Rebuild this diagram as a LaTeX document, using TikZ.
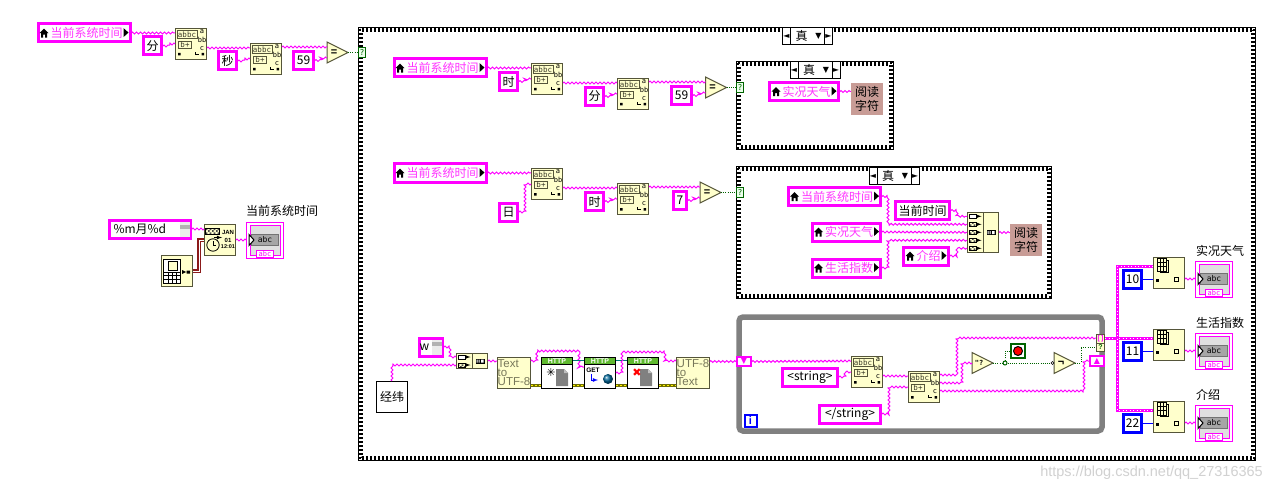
\documentclass[tikz,border=0pt]{standalone}
\usepackage{fontspec}
\setmainfont{Liberation Sans}
\newfontfamily\cjk{Noto Sans CJK SC}
\newfontfamily\djv{DejaVu Sans}
\newfontfamily\icf{DejaVu Sans Mono}
\usetikzlibrary{positioning, calc, patterns, decorations.pathmorphing}

\definecolor{strpink}{HTML}{FF00FF}
\definecolor{lvpink}{HTML}{FF33FF}
\definecolor{funcfill}{HTML}{FFFFCC}
\definecolor{funcedge}{HTML}{55553A}
\definecolor{functext}{HTML}{77775A}
\definecolor{readfill}{HTML}{C89C96}
\definecolor{boolgreen}{HTML}{006400}
\definecolor{httpgreen}{HTML}{5FB92F}
\definecolor{refteal}{HTML}{007878}
\definecolor{errolive}{HTML}{6E6E00}
\definecolor{clockred}{HTML}{8B1A1A}
\definecolor{loopgrey}{HTML}{808080}

\pgfdeclarepatternformonly{chk}{\pgfqpoint{0pt}{0pt}}{\pgfqpoint{4pt}{4pt}}{\pgfqpoint{4pt}{4pt}}{
  \pgfpathrectangle{\pgfpointorigin}{\pgfqpoint{2pt}{2pt}}
  \pgfpathrectangle{\pgfqpoint{2pt}{2pt}}{\pgfqpoint{2pt}{2pt}}
  \pgfusepath{fill}}

\newcommand{\homeic}{\tikz[baseline=0pt,x=1pt,y=1pt]{\fill[black] (0,4.5) -- (4.5,9) -- (9,4.5) -- (7.5,4.5) -- (7.5,0) -- (5.5,0) -- (5.5,3) -- (3.5,3) -- (3.5,0) -- (1.5,0) -- (1.5,4.5) -- cycle;}}
\newcommand{\arrowic}{\tikz[baseline=0pt,x=1pt,y=1pt]{\fill[black] (0,0.5) -- (5,5) -- (0,9.5) -- cycle;}}
\newcommand{\lvtxt}[1]{\homeic\hspace{2pt}\textcolor{lvpink}{#1}\hspace{1pt}\arrowic}
\newcommand{\chkframe}[1]{
  \draw[chkd] ([shift={(2,2)}]#1.north west) rectangle ([shift={(-2,-2)}]#1.south east);
  \draw[chkd, dash phase=2pt] ([shift={(4,4)}]#1.north west) rectangle ([shift={(-4,-4)}]#1.south east);
}

\tikzset{
  funcbox/.style={draw=funcedge, fill=funcfill, line width=1pt, minimum size=31pt, inner sep=0pt},
  iconbox/.style={draw=funcedge, line width=.8pt, inner sep=0pt, font=\fontsize{7.5}{8}\selectfont\icf, text=funcedge!70!black},
  icontxt/.style={inner sep=0pt, font=\fontsize{7}{7}\selectfont\icf, text=black},
  chkd/.style={draw=black, line width=2pt, dash pattern=on 2pt off 2pt},
  splitstr/.pic={
    \node[funcbox] (-box) at (0,0) {};
    \node[iconbox, minimum width=20pt, minimum height=7.5pt] (-abbc) at (-4,-9.5) {abbc};
    \node[iconbox, minimum width=13pt, minimum height=7.5pt] (-bp) at (-6,1) {b+};
    \node[icontxt] (-a) at (11,-12.5) {a};
    \node[icontxt] (-bb) at (11,-4) {bb};
    \node[icontxt] (-c) at (11,5) {c};
    \fill[black] (-13,9) rectangle (-10.5,11.5) (10.5,9) rectangle (13,11.5);
    \draw[black, line width=.6pt] (4,8) -- (4,10.5) -- (8,10.5);
    \coordinate (-i1) at (-16,-11);
    \coordinate (-i2) at (-16,0);
    \coordinate (-oa) at (16,-12);
    \coordinate (-ob) at (16,-4);
    \coordinate (-oc) at (16,4);
  },
  indicat/.pic={
    \node[draw=strpink, fill=white, line width=1pt, minimum width=37pt, minimum height=36pt, inner sep=0pt] (-box) at (0,0) {};
    \node[draw=strpink, fill=black!12, line width=1pt, minimum width=30pt, minimum height=30pt, inner sep=0pt] (-in) at (0,0) {};
    \node[draw=black!55, fill=black!35, line width=.6pt, minimum width=27pt, minimum height=11pt, inner sep=0pt, font=\fontsize{8}{8}\selectfont\icf] (-st) at (0,0) {abc};
    \node[draw=strpink, fill=white, line width=1pt, minimum width=17pt, minimum height=7.5pt, inner sep=0pt, font=\fontsize{7}{7}\selectfont\icf, text=strpink] (-tg) at (0,14) {abc};
    \draw[black, fill=white, line width=1pt] (-16,-5.5) -- (-11,0) -- (-16,5.5) -- cycle;
    \coordinate (-w) at (-19,0);
  },
  pics/cmptri/.style={code={
    \draw[draw=funcedge, fill=funcfill, line width=1pt] (-10.5,-10.5) -- (10.5,0) -- (-10.5,10.5) -- cycle;
    \node[inner sep=0pt, font=\fontsize{11}{11}\selectfont\bfseries] (-t) at (-3.5,0) {#1};
    \coordinate (-ia) at (-10.5,-5.5);
    \coordinate (-ib) at (-10.5,5.5);
    \coordinate (-i) at (-10.5,0);
    \coordinate (-o) at (10.5,0);
  }},
  idxarr/.pic={
    \node[funcbox] (-box) at (0,0) {};
    \draw[black, line width=.7pt, fill=funcfill] (-9,-13) rectangle (-1,-1);
    \draw[black, line width=.7pt, fill=funcfill] (-12,-15) rectangle (-3,-2);
    \draw[black, line width=.7pt] (-9,-15) -- (-9,-2) (-6,-15) -- (-6,-2) (-12,-11) -- (-3,-11) (-12,-7) -- (-3,-7);
    \fill[black] (-13,6) rectangle (-10,8.5);
    \draw[black, line width=1pt] (5,4.5) rectangle (9,8.5);
    \coordinate (-ia) at (-16,-7);
    \coordinate (-in) at (-16,6);
    \coordinate (-o) at (16,6);
  },
  httpbox/.pic={
    \node[draw=black, fill=white, line width=1pt, minimum size=31pt, inner sep=0pt] (-box) at (0,0) {};
    \node[draw=black, fill=httpgreen, line width=.8pt, minimum width=31pt, minimum height=7pt, inner sep=0pt, text=white, font=\fontsize{7}{7}\selectfont\bfseries] (-hd) at (0,-12) {HTTP};
  },
  docic/.pic={
    \fill[black!50] (-6,-8.5) -- (2,-8.5) -- (6,-4.5) -- (6,8.5) -- (-6,8.5) -- cycle;
    \fill[black!25] (2,-8.5) -- (6,-4.5) -- (2,-4.5) -- cycle;
  },
  catic/.pic={
    \fill[black] (-4.5,-2.5) rectangle (4.5,2.5);
    \fill[white] (-3.5,-1.5) rectangle (-2.5,1.5) (-1.5,-1.5) rectangle (-.5,1.5) (1,-1.5) rectangle (3.5,1.5);
  }
}

\begin{document}
\begin{tikzpicture}[x=1pt, y=-1pt,
    txt/.style={font=\fontsize{12}{14}\selectfont\cjk, inner sep=0pt},
    strc/.style={txt, draw=strpink, fill=white, line width=3pt, minimum width=18pt, minimum height=18pt},
    lvar/.style={strc, text=black, minimum height=18pt},
    blc/.style={txt, draw=blue, fill=white, line width=3pt, minimum size=18pt},
    readc/.style={txt, fill=readfill, minimum size=32pt, align=center, font=\fontsize{12}{14.5}\selectfont\cjk},
    caseout/.style={draw=black, line width=1pt, inner sep=0pt},
    selbox/.style={txt, draw=black, fill=white, line width=1pt, minimum width=50pt, minimum height=17pt},
    selq/.style={draw=boolgreen, fill=green!8, line width=1pt, text=boolgreen, inner sep=0pt, minimum width=7pt, minimum height=10pt, font=\fontsize{8}{8}\selectfont\icf},
    strw/.style={draw=strpink, line width=1pt, decorate, decoration={zigzag, segment length=4pt, amplitude=.9pt}},
    strbus/.style={draw=strpink, line width=3pt, postaction={draw=white, line width=1pt, dash pattern=on 1pt off 2.5pt}},
    boolw/.style={draw=boolgreen, line width=1pt, dash pattern=on 1pt off 1.2pt},
    intw/.style={draw=blue, line width=1pt},
    refw/.style={draw=refteal, line width=1pt},
    errw/.style={draw=errolive, line width=3pt, postaction={draw=yellow, line width=1pt, dash pattern=on 2pt off 2pt}},
    clkw/.style={draw=clockred, line width=3.4pt, postaction={draw=white, line width=1pt}},
    hatch/.style={draw=black, line width=.7pt, pattern=chk, pattern color=black!70},
    markr/.style={inner sep=0pt, font=\fontsize{8}{8}\selectfont\djv},
    sreg/.style={draw=strpink, fill=white, line width=2pt, minimum width=14pt, minimum height=9.5pt, inner sep=0pt, text=strpink, font=\fontsize{8}{8}\selectfont\djv},
]
\useasboundingbox (0,0) rectangle (1272,492);
\fill[white] (0,0) rectangle (1272,492);

% main case
\node[caseout, minimum width=897pt, minimum height=433pt] (casemain) at (807,244) {};
\chkframe{casemain}
\node[selbox] (selmain) at (807.5,36) {\hspace{-12pt}真};
\draw[line width=1pt] (790.5,27.5) -- (790.5,44.5) (824.5,27.5) -- (824.5,44.5);
\node[markr] (selmainl) at (786.5,36) {◄};
\node[markr] (selmainr) at (828.5,36) {►};
\node[markr] (selmaind) at (818.5,36) {▼};
\node[selq] (q0) at (362,52.5) {?};

% first row outside the case
\node[lvar, minimum width=92pt] (cur1) at (84,33) {\lvtxt{当前系统时间}};
\node[strc] (fen1) at (152.5,46) {分};
\pic (s1) at (191,44) {splitstr};
\node[strc] (miao1) at (227.5,61) {秒};
\pic (s2) at (266,59) {splitstr};
\node[strc, minimum width=20pt] (n59a) at (303.5,60.5) {59};
\pic (eq1) at (337.5,52.5) {cmptri={=}};
\draw[strw] (cur1.east) -- (s1-i1);
\draw[strw] (fen1.east) -- ++(6,0) |- (s1-i2);
\draw[strw] (s1-oc) -- (s2-i1);
\draw[strw] (miao1.east) -- ++(6,0) |- (s2-i2);
\draw[strw] (s2-oa) -- (eq1-ia);
\draw[strw] (n59a.east) -- ++(6,0) |- (eq1-ib);
\draw[boolw] (eq1-o) -- (q0.west);

% time format
\node[txt, strc, minimum width=81pt, text width=81pt, align=left] (fmt) at (150,229) {\hspace{4pt}\%m月\%d};
\fill[black!8] (180,222) rectangle (189.5,236.5);
\fill[black!30] (180,225) rectangle (189.5,229);
\node[funcbox] (tfmt) at (220,240) {};
\node[hatch, minimum width=14pt, minimum height=6pt, inner sep=0pt] (tfmtt) at (212,231) {};
\node[icontxt, font=\fontsize{6}{6}\selectfont\bfseries] (tfmtj) at (228,232) {JAN};
\node[icontxt, font=\fontsize{6}{6}\selectfont\bfseries] (tfmtd) at (228,240) {01};
\node[icontxt, font=\fontsize{5.5}{6}\selectfont\bfseries] (tfmth) at (228,247) {12:01};
\draw[black, line width=.8pt] (213,245) circle (6.2);
\draw[black, line width=.7pt] (213,241) -- (213,245) -- (216,245);
\draw[black, line width=.8pt, -latex] (214,237.5) -- (222,237.5);
\node[funcbox] (clk) at (177,271) {};
\draw[black, line width=.8pt, fill=white] (163.5,259) rectangle (180,283);
\draw[black, line width=.7pt, fill=funcfill] (168,261) rectangle (177,270);
\draw[black, line width=.5pt] (163.5,272) -- (180,272) (163.5,275.5) -- (180,275.5) (163.5,279) -- (180,279) (168,272) -- (168,283) (172,272) -- (172,283) (176,272) -- (176,283);
\fill[black] (182,270) -- (186,272) -- (182,274) -- cycle (186.5,270.5) rectangle (190,273.5);
\pic (indc) at (265,240) {indicat};
\node[txt, anchor=west] (indcl) at (246,211) {当前系统时间};
\draw[strw] (fmt.east) -- (fmt.east -| tfmt.west);
\draw[clkw] (clk.east) -- ++(6,0) |- (tfmt.west);
\draw[strw] (tfmt.east) -- (indc-w);

% upper inner case
\node[caseout, minimum width=157pt, minimum height=88pt] (casea) at (815,105.5) {};
\chkframe{casea}
\node[selbox] (sela) at (815,70) {\hspace{-12pt}真};
\draw[line width=1pt] (798,61.5) -- (798,78.5) (832,61.5) -- (832,78.5);
\node[markr] (selal) at (794,70) {◄};
\node[markr] (selar) at (836,70) {►};
\node[markr] (selad) at (826,70) {▼};
\node[selq] (q1) at (740,87.5) {?};
\node[lvar, minimum width=69pt] (kuang1) at (804,91.5) {\lvtxt{实况天气}};
\node[readc] (read1) at (867,99) {阅读\\字符};
\draw[strw] (kuang1.east) -- (kuang1.east -| read1.west);

\node[lvar, minimum width=92pt] (cur2) at (440,68) {\lvtxt{当前系统时间}};
\node[strc] (shi2) at (508.5,81.5) {时};
\pic (s3) at (547,79) {splitstr};
\node[strc] (fen2) at (594.5,96.5) {分};
\pic (s4) at (633,94) {splitstr};
\node[strc, minimum width=20pt] (n59b) at (681.5,95.5) {59};
\pic (eq2) at (716,87.5) {cmptri={=}};
\draw[strw] (cur2.east) -- (s3-i1);
\draw[strw] (shi2.east) -- ++(6,0) |- (s3-i2);
\draw[strw] (s3-oc) -- (s4-i1);
\draw[strw] (fen2.east) -- ++(6,0) |- (s4-i2);
\draw[strw] (s4-oa) -- (eq2-ia);
\draw[strw] (n59b.east) -- ++(6,0) |- (eq2-ib);
\draw[boolw] (eq2-o) -- (q1.west);

% lower inner case
\node[caseout, minimum width=315pt, minimum height=132pt] (caseb) at (894,232.5) {};
\chkframe{caseb}
\node[selbox] (selb) at (894,176) {\hspace{-12pt}真};
\draw[line width=1pt] (877,167.5) -- (877,184.5) (911,167.5) -- (911,184.5);
\node[markr] (selbl) at (873,176) {◄};
\node[markr] (selbr) at (915,176) {►};
\node[markr] (selbd) at (905,176) {▼};
\node[selq] (q2) at (740,192.5) {?};
\node[lvar, minimum width=92pt] (cur4) at (834.5,196.5) {\lvtxt{当前系统时间}};
\node[strc, minimum width=54pt] (tnow) at (922.5,210.5) {当前时间};
\node[lvar, minimum width=68pt] (kuang2) at (846.5,232) {\lvtxt{实况天气}};
\node[lvar, minimum width=68pt] (shz) at (846.5,268) {\lvtxt{生活指数}};
\node[lvar, minimum width=45pt] (jie) at (926,256) {\lvtxt{介绍}};
\node[funcbox, minimum height=40pt] (cat) at (983,232.5) {};
\draw[draw=funcedge, line width=1pt] (983,212.5) -- (983,252.5);
\draw[black, line width=.7pt, fill=white] (969,214) rectangle (976,218.5);
\node[hatch, minimum width=7pt, minimum height=4.5pt, inner sep=0pt] (catb) at (972.5,224.3) {};
\node[hatch, minimum width=7pt, minimum height=4.5pt, inner sep=0pt] (catc) at (972.5,232.3) {};
\node[hatch, minimum width=7pt, minimum height=4.5pt, inner sep=0pt] (catd) at (972.5,240.3) {};
\node[hatch, minimum width=7pt, minimum height=4.5pt, inner sep=0pt] (cate) at (972.5,248.3) {};
\draw[black, line width=.8pt, -latex] (976,216.3) -- (981.5,216.3);
\draw[black, line width=.8pt, -latex] (976,224.3) -- (981.5,224.3);
\draw[black, line width=.8pt, -latex] (976,232.3) -- (981.5,232.3);
\draw[black, line width=.8pt, -latex] (976,240.3) -- (981.5,240.3);
\draw[black, line width=.8pt, -latex] (976,248.3) -- (981.5,248.3);
\pic (catmk) at (991,232.5) {catic};
\node[readc] (read2) at (1026,240) {阅读\\字符};
\draw[strw] (cur4.east) -- ++(6,0) |- (967,224.3);
\draw[strw] (tnow.east) -- ++(6,0) |- (967,216.3);
\draw[strw] (kuang2.east) -- (967,232.3);
\draw[strw] (shz.east) -- ++(6,0) |- (967,240.3);
\draw[strw] (jie.east) -- ++(7,0) |- (967,248.3);
\draw[strw] (cat.east) -- (cat.east -| read2.west);

\node[lvar, minimum width=92pt] (cur3) at (440,173) {\lvtxt{当前系统时间}};
\node[strc] (ri) at (508.5,212) {日};
\pic (s5) at (547,184) {splitstr};
\node[strc] (shi3) at (594.5,201.5) {时};
\pic (s6) at (633,199) {splitstr};
\node[strc, minimum width=13pt] (n7) at (680,200.5) {7};
\pic (eq3) at (710.5,192.5) {cmptri={=}};
\draw[strw] (cur3.east) -- (s5-i1);
\draw[strw] (ri.east) -- ++(6,0) |- (s5-i2);
\draw[strw] (s5-oc) -- (s6-i1);
\draw[strw] (shi3.east) -- ++(6,0) |- (s6-i2);
\draw[strw] (s6-oa) -- (eq3-ia);
\draw[strw] (n7.east) -- ++(6,0) |- (eq3-ib);
\draw[boolw] (eq3-o) -- (q2.west);

% http row
\node[strc, minimum width=23pt, text width=23pt, align=left] (wkey) at (431,347) {w};
\fill[black!8] (432,340) rectangle (442,354.5);
\fill[black!30] (432,342) rectangle (442,346);
\node[txt, draw=black, fill=white, line width=1pt, minimum size=31pt] (jw) at (392,397) {经纬};
\node[funcbox, minimum height=15pt] (cat2) at (472,361) {};
\draw[draw=funcedge, line width=1pt] (472,353.5) -- (472,368.5);
\draw[black, line width=.7pt, fill=white] (458,355) rectangle (465,359);
\node[hatch, minimum width=7pt, minimum height=4pt, inner sep=0pt] (cat2b) at (461.5,365) {};
\draw[black, line width=.8pt, -latex] (465,357) -- (470.5,357);
\draw[black, line width=.8pt, -latex] (465,365) -- (470.5,365);
\pic (cat2mk) at (480,361) {catic};
\node[funcbox, text=functext, align=left, font=\fontsize{11.5}{9}\selectfont] (t8) at (514,373) {Text\\to\\UTF-8};
\pic (h1) at (557,373) {httpbox};
\pic (h1d) at (562,377.5) {docic};
\node[inner sep=0pt, font=\fontsize{11}{11}\selectfont\djv, text=black] (h1s) at (551,372) {✳};
\pic (h2) at (600,373) {httpbox};
\node[inner sep=0pt, font=\fontsize{6.5}{7}\selectfont\bfseries] (h2g) at (593,370.5) {GET};
\draw[blue, line width=.8pt, -latex] (591,374) -- (591,380) -- (598,380);
\shade[ball color=blue!60!green] (608,379) circle (5);
\pic (h3) at (643,373) {httpbox};
\pic (h3d) at (646,377.5) {docic};
\node[inner sep=0pt, font=\fontsize{11}{11}\selectfont\djv, text=red] (h3x) at (637,373) {✖};
\node[funcbox, text=functext, align=left, font=\fontsize{11.5}{9}\selectfont] (u8) at (693,373) {UTF-8\\to\\Text};
\draw[strw] (wkey.east) -- ++(6,0) |- (456,357);
\draw[strw] (jw.north) |- (456,365);
\draw[strw] (cat2.east) -- (cat2.east -| t8.west);
\draw[strw] ($(t8.east)+(0,-12)$) -- ++(6,0) |- ($(h2-box.north west)+(-5,-6)$) |- ($(h2-box.west)+(0,-6)$);
\draw[refw] ($(h1-box.east)+(0,-13)$) -- ($(h2-box.west)+(0,-13)$);
\draw[refw] ($(h2-box.east)+(0,-13)$) -- ($(h3-box.west)+(0,-13)$);
\draw[errw] ($(t8.east)+(0,12)$) -- ($(h1-box.west)+(0,12)$);
\draw[errw] ($(h1-box.east)+(0,12)$) -- ($(h2-box.west)+(0,12)$);
\draw[errw] ($(h2-box.east)+(0,12)$) -- ($(h3-box.west)+(0,12)$);
\draw[errw] ($(h3-box.east)+(0,12)$) -- ($(u8.west)+(0,12)$);
\draw[strw] (h2-box.east) -- ++(6,0) |- ($(h3-box.north east)+(6,-5)$) |- ($(u8.west)+(0,-12)$);

% while loop
\node[draw=loopgrey, line width=5.5pt, rounded corners=4pt, minimum width=363pt, minimum height=114pt, inner sep=0pt] (wloop) at (920.5,374) {};
\node[sreg] (srl) at (744,361.5) {▼};
\node[sreg] (srr) at (1097,361) {▲};
\node[draw=blue, fill=white, line width=2pt, minimum size=12pt, inner sep=0pt, text=blue, font=\fontsize{11}{11}\selectfont\bfseries] (iterm) at (750.5,420.5) {i};
\node[strc, minimum width=55pt] (str1) at (810,377) {<string>};
\node[strc, minimum width=61pt] (str2) at (850,414) {</string>};
\pic (sa) at (867,372) {splitstr};
\pic (sb) at (924,387) {splitstr};
\pic (em) at (982.5,363) {cmptri={\fontsize{7}{7}\selectfont\icf "?}};
\node[circle, draw=boolgreen, fill=white, line width=1pt, minimum size=4pt, inner sep=0pt] (jn) at (1005,363) {};
\node[draw=boolgreen, fill=white, line width=1.5pt, minimum size=14pt, inner sep=0pt] (stopb) at (1018,351) {};
\node[circle, draw=black, fill=red, line width=1pt, minimum size=9pt, inner sep=0pt] (stopd) at (1018,351) {};
\pic (nt) at (1064.5,363) {cmptri={¬}};
\node[circle, draw=black, fill=white, line width=.6pt, minimum size=3pt, inner sep=0pt] (ntb) at (1052.5,363) {};
\node[draw=funcedge, fill=funcfill, line width=1pt, minimum width=8pt, minimum height=17pt, inner sep=0pt] (tun) at (1100.5,343) {};
\draw[funcedge, line width=.6pt] (1096.5,343) -- (1104.5,343);
\node[inner sep=0pt, text=strpink, font=\fontsize{7}{7}\selectfont\bfseries] (tuna) at (1100.5,338.5) {[\,]};
\node[inner sep=0pt, text=boolgreen, font=\fontsize{7}{7}\selectfont\bfseries] (tunc) at (1100.5,347.5) {?};
\coordinate (tuni) at (1096,338);
\coordinate (tunq) at (1096,347);
\coordinate (tuno) at (1105,338);
\draw[strw] (u8.east |- srl.west) -- (srl.west);
\draw[strw] (srl.east) -- (sa-i1);
\draw[strw] (str1.east) -- ++(6,0) |- (sa-i2);
\draw[strw] (sa-oc) -- (sb-i1);
\draw[strw] (str2.east) -- ++(7,0) |- (sb-i2);
\draw[strw] (sb-oa) -- ++(17,0) |- (tuni);
\draw[strw] (sb-ob) -- ++(22,0) |- (em-i);
\draw[strw] (sb-oc) -- ++(144,0) |- (srr.west);
\draw[boolw] (em-o) -- (jn.west);
\draw[boolw] (jn.north) |- (stopb.west);
\draw[boolw] (jn.east) -- (ntb.west);
\draw[boolw] (nt-o) -- ++(6,0) |- (tunq);

% index array and indicators
\coordinate (bus) at (1117,338);
\pic (idx1) at (1169,273) {idxarr};
\pic (idx2) at (1169,345) {idxarr};
\pic (idx3) at (1169,417) {idxarr};
\node[blc] (k10) at (1132.5,279) {10};
\node[blc] (k11) at (1132.5,351) {11};
\node[blc] (k22) at (1132.5,423) {22};
\pic (ind1) at (1214,279) {indicat};
\pic (ind2) at (1214,351) {indicat};
\pic (ind3) at (1214,423) {indicat};
\node[txt, anchor=west] (ind1l) at (1196,251) {实况天气};
\node[txt, anchor=west] (ind2l) at (1196,323) {生活指数};
\node[txt, anchor=west] (ind3l) at (1196,395) {介绍};
\draw[strbus] (tuno) -- (idx2-ia);
\draw[strbus] (idx1-ia) -- (idx1-ia -| bus) -- (idx3-ia -| bus) -- (idx3-ia);
\draw[intw] (k10.east) -- (idx1-in);
\draw[intw] (k11.east) -- (idx2-in);
\draw[intw] (k22.east) -- (idx3-in);
\draw[strw] (idx1-o) -- (ind1-w);
\draw[strw] (idx2-o) -- (ind2-w);
\draw[strw] (idx3-o) -- (ind3-w);

\node[inner sep=0pt, anchor=east, text=black!18, font=\fontsize{14.5}{16}\selectfont] (mark) at (1263,473) {https://blog.csdn.net/qq\_27316365};
\end{tikzpicture}
\end{document}
